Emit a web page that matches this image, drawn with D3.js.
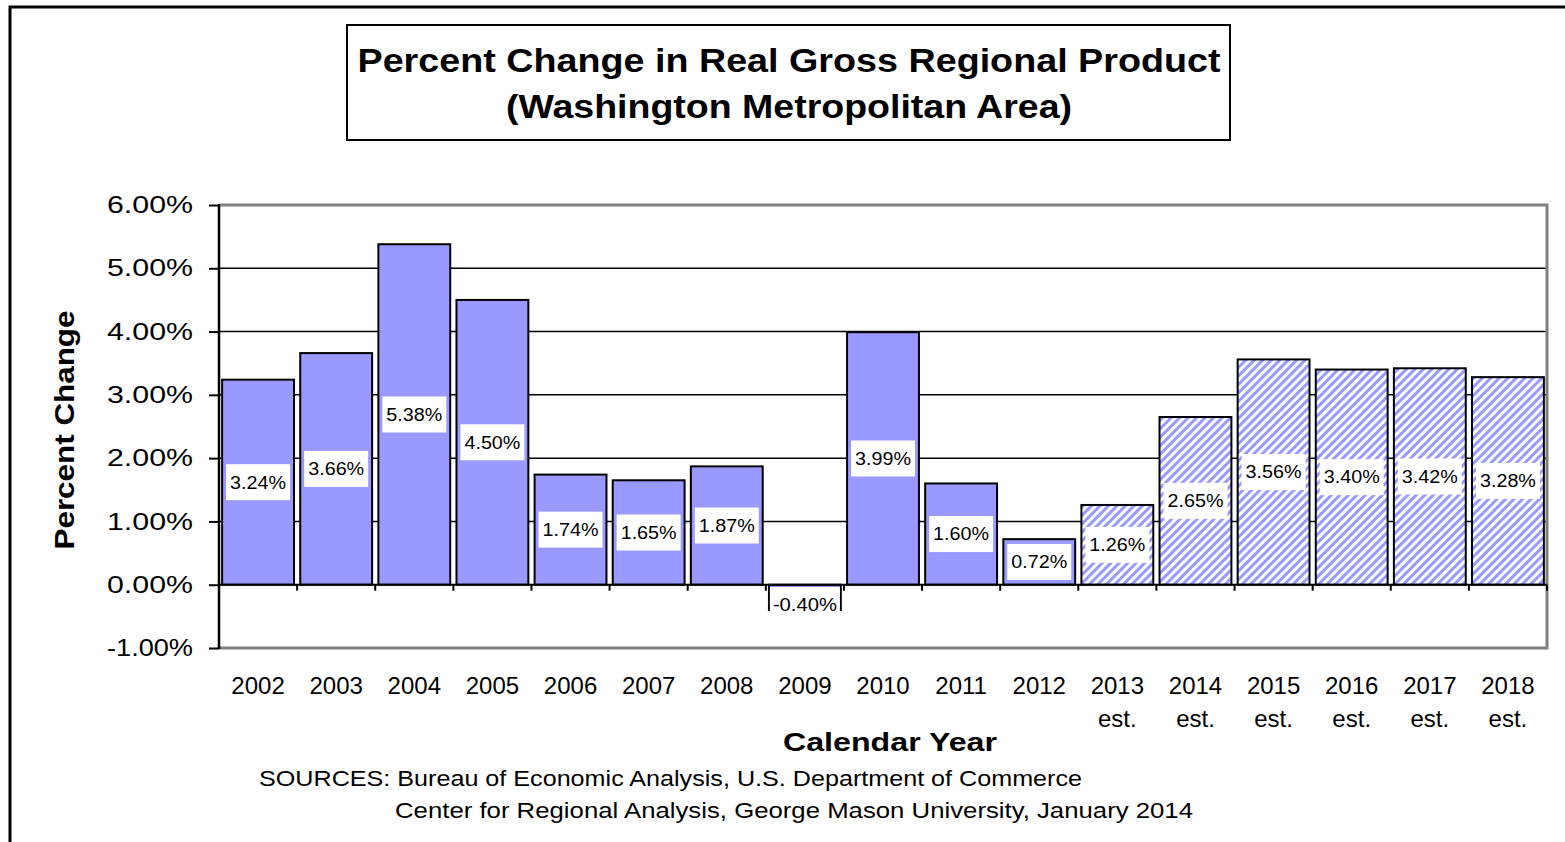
<!DOCTYPE html>
<html>
<head>
<meta charset="utf-8">
<script src="https://cdn.jsdelivr.net/npm/d3@7"></script>
<style>
  body { margin: 0; background: #fff; }
  text { font-family: "Liberation Sans", Arial, sans-serif; fill: #000; }
</style>
</head>
<body>
<div id="container"></div>
<script>
// chart data
var years = ["2002", "2003", "2004", "2005", "2006", "2007", "2008", "2009", "2010",
  "2011", "2012", "2013", "2014", "2015", "2016", "2017", "2018"];
var estimated = ["2013", "2014", "2015", "2016", "2017", "2018"];
var values = [3.24, 3.66, 5.38, 4.50, 1.74, 1.65, 1.87, -0.40, 3.99,
  1.60, 0.72, 1.26, 2.65, 3.56, 3.40, 3.42, 3.28];
var yTicks = [-1, 0, 1, 2, 3, 4, 5, 6];
var titleLines = ["Percent Change in Real Gross Regional Product", "(Washington Metropolitan Area)"];
var sources = ["SOURCES: Bureau of Economic Analysis, U.S. Department of Commerce",
  "Center for Regional Analysis, George Mason University, January 2014"];

var width = 1565, height = 842;
var plot = { left: 219, right: 1547, top: 205, bottom: 648 };
var barColor = "#9999ff";

var data = years.map(function(y, i) {
  return { year: y, value: values[i], est: estimated.indexOf(y) >= 0 };
});

var svg = d3.select("#container").append("svg")
  .attr("width", width)
  .attr("height", height);

// stripes for estimated years
var pat = svg.append("defs").append("pattern")
  .attr("id", "hatch")
  .attr("patternUnits", "userSpaceOnUse")
  .attr("width", 6)
  .attr("height", 6)
  .attr("patternTransform", "rotate(45)");
pat.append("rect").attr("width", 6).attr("height", 6).attr("fill", "#fff");
pat.append("rect").attr("width", 3).attr("height", 6).attr("fill", barColor);

// outer frame
svg.append("rect")
  .attr("x", 10).attr("y", 7)
  .attr("width", 1600).attr("height", 900)
  .attr("fill", "none").attr("stroke", "#000").attr("stroke-width", 3);

// title box
svg.append("rect")
  .attr("x", 347).attr("y", 25)
  .attr("width", 883).attr("height", 115)
  .attr("fill", "#fff").attr("stroke", "#000").attr("stroke-width", 2);

svg.selectAll(".title")
  .data(titleLines)
  .enter().append("text")
  .attr("class", "title")
  .attr("x", 789)
  .attr("y", function(d, i) { return 72 + i * 46; })
  .attr("text-anchor", "middle")
  .attr("font-size", 34)
  .attr("font-weight", "bold")
  .attr("textLength", function(d, i) { return i == 0 ? 863 : 566; })
  .attr("lengthAdjust", "spacingAndGlyphs")
  .text(function(d) { return d; });

// scales
var x = d3.scaleBand()
  .domain(years)
  .range([plot.left, plot.right])
  .paddingInner(0.08)
  .paddingOuter(0.04);

var y = d3.scaleLinear()
  .domain([-1, 6])
  .range([plot.bottom, plot.top]);

// gridlines
svg.append("g")
  .selectAll("line")
  .data(yTicks.filter(function(d) { return d > 0 && d < 6; }))
  .enter().append("line")
  .attr("x1", plot.left).attr("x2", plot.right)
  .attr("y1", function(d) { return y(d); })
  .attr("y2", function(d) { return y(d); })
  .attr("stroke", "#000").attr("stroke-width", 1.5);

// plot frame (grey top/right/bottom)
svg.append("path")
  .attr("d", "M" + plot.left + "," + y(6) + "H" + plot.right + "V" + y(-1) + "H" + plot.left)
  .attr("fill", "none").attr("stroke", "#808080").attr("stroke-width", 3);

// bars
svg.append("g")
  .selectAll("rect")
  .data(data)
  .enter().append("rect")
  .attr("x", function(d) { return x(d.year); })
  .attr("width", x.bandwidth())
  .attr("y", function(d) { return y(Math.max(0, d.value)); })
  .attr("height", function(d) { return Math.abs(y(d.value) - y(0)); })
  .attr("fill", function(d) { return d.est ? "url(#hatch)" : barColor; })
  .attr("stroke", "#000")
  .attr("stroke-width", 2);

// value labels in white boxes
var lab = svg.append("g")
  .selectAll("g")
  .data(data)
  .enter().append("g")
  .attr("transform", function(d) {
    var cy = d.value < 0 ? y(d.value) - 5 : y(d.value / 2);
    return "translate(" + (x(d.year) + x.bandwidth() / 2) + "," + cy + ")";
  });

lab.append("rect")
  .attr("x", function(d) { return d.value < 0 ? -35 : -32; })
  .attr("y", function(d) { return d.value < 0 ? -18 : -18; })
  .attr("width", function(d) { return d.value < 0 ? 70 : 64; })
  .attr("height", function(d) { return d.value < 0 ? 26 : 36; })
  .attr("fill", "#fff");

lab.append("text")
  .attr("text-anchor", "middle")
  .attr("dy", "0.35em")
  .attr("font-size", 18)
  .attr("textLength", function(d) { return d.value < 0 ? 64 : 56; })
  .attr("lengthAdjust", "spacingAndGlyphs")
  .text(function(d) { return d.value.toFixed(2) + "%"; });

// category ticks at zero line
svg.append("g")
  .selectAll("line")
  .data(d3.range(years.length + 1))
  .enter().append("line")
  .attr("x1", function(i) { return plot.left + i * x.step(); })
  .attr("x2", function(i) { return plot.left + i * x.step(); })
  .attr("y1", y(0)).attr("y2", y(0) + 6)
  .attr("stroke", "#000").attr("stroke-width", 2);

// zero line and left axis line
svg.append("line")
  .attr("x1", plot.left).attr("x2", plot.right)
  .attr("y1", y(0)).attr("y2", y(0))
  .attr("stroke", "#000").attr("stroke-width", 2);

svg.append("line")
  .attr("x1", plot.left).attr("x2", plot.left)
  .attr("y1", y(6) - 1).attr("y2", y(-1) + 1)
  .attr("stroke", "#000").attr("stroke-width", 2.5);

// y axis
var yAxis = svg.append("g")
  .attr("transform", "translate(" + plot.left + ",0)")
  .call(d3.axisLeft(y)
    .tickValues(yTicks)
    .tickSize(10)
    .tickPadding(16)
    .tickFormat(function(d) { return d.toFixed(2) + "%"; }));
yAxis.select(".domain").remove();
yAxis.selectAll("line").attr("stroke", "#000").attr("stroke-width", 2);
yAxis.selectAll("text")
  .attr("font-family", "Liberation Sans, Arial, sans-serif")
  .attr("font-size", 24)
  .attr("textLength", 86)
  .attr("lengthAdjust", "spacingAndGlyphs");

// x axis labels
var xAxis = svg.append("g")
  .attr("transform", "translate(0," + y(-1) + ")")
  .call(d3.axisBottom(x).tickSize(0).tickPadding(29));
xAxis.select(".domain").remove();
xAxis.selectAll("text")
  .attr("font-family", "Liberation Sans, Arial, sans-serif")
  .attr("font-size", 24)
  .each(function(d) {
    var t = d3.select(this);
    t.text(null);
    t.append("tspan").attr("x", 0).text(d);
    if (estimated.indexOf(d) >= 0) {
      t.append("tspan").attr("x", 0).attr("dy", "1.38em").text("est.");
    }
  });

// axis titles
svg.append("text")
  .attr("transform", "translate(74,430) rotate(-90)")
  .attr("text-anchor", "middle")
  .attr("font-size", 27)
  .attr("font-weight", "bold")
  .attr("textLength", 239)
  .attr("lengthAdjust", "spacingAndGlyphs")
  .text("Percent Change");

svg.append("text")
  .attr("x", 890).attr("y", 751)
  .attr("text-anchor", "middle")
  .attr("font-size", 26)
  .attr("font-weight", "bold")
  .attr("textLength", 214)
  .attr("lengthAdjust", "spacingAndGlyphs")
  .text("Calendar Year");

// sources
svg.selectAll(".src")
  .data(sources)
  .enter().append("text")
  .attr("class", "src")
  .attr("x", function(d, i) { return i == 0 ? 259 : 395; })
  .attr("y", function(d, i) { return 786 + i * 32; })
  .attr("font-size", 22)
  .attr("textLength", function(d, i) { return i == 0 ? 823 : 798; })
  .attr("lengthAdjust", "spacingAndGlyphs")
  .text(function(d) { return d; });
</script>
</body>
</html>
